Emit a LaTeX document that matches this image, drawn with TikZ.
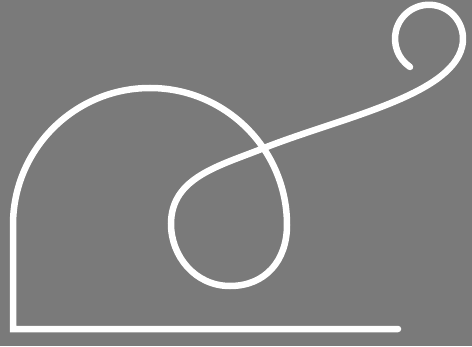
\documentclass[tikz,border=0pt]{standalone}
\usetikzlibrary{positioning}
\definecolor{bggray}{RGB}{122,122,122}
\begin{document}
\begin{tikzpicture}[x=1pt, y=1pt, wire/.style={draw=white, line width=6.5pt, line cap=round, line join=miter}]
\fill[bggray] (0,0) rectangle (472,346);
\useasboundingbox (0,0) rectangle (472,346);
\coordinate (tail) at (398,17);
\coordinate (corner) at (13,17);
\coordinate (cross) at (264,198);
\coordinate (curl) at (462,299);
\draw[wire] (tail) -- (corner) -- (13,121)
  arc[start angle=180, end angle=0, radius=137pt]
  .. controls (287,85) and (265,60) .. (230,60)
  .. controls (195,60) and (171,90) .. (171,122)
  to[out=90, in=202] (cross)
  .. controls (340,228) and (450,250) .. (curl)
  arc[start angle=-14, end angle=236, radius=34pt];
\end{tikzpicture}
\end{document}
